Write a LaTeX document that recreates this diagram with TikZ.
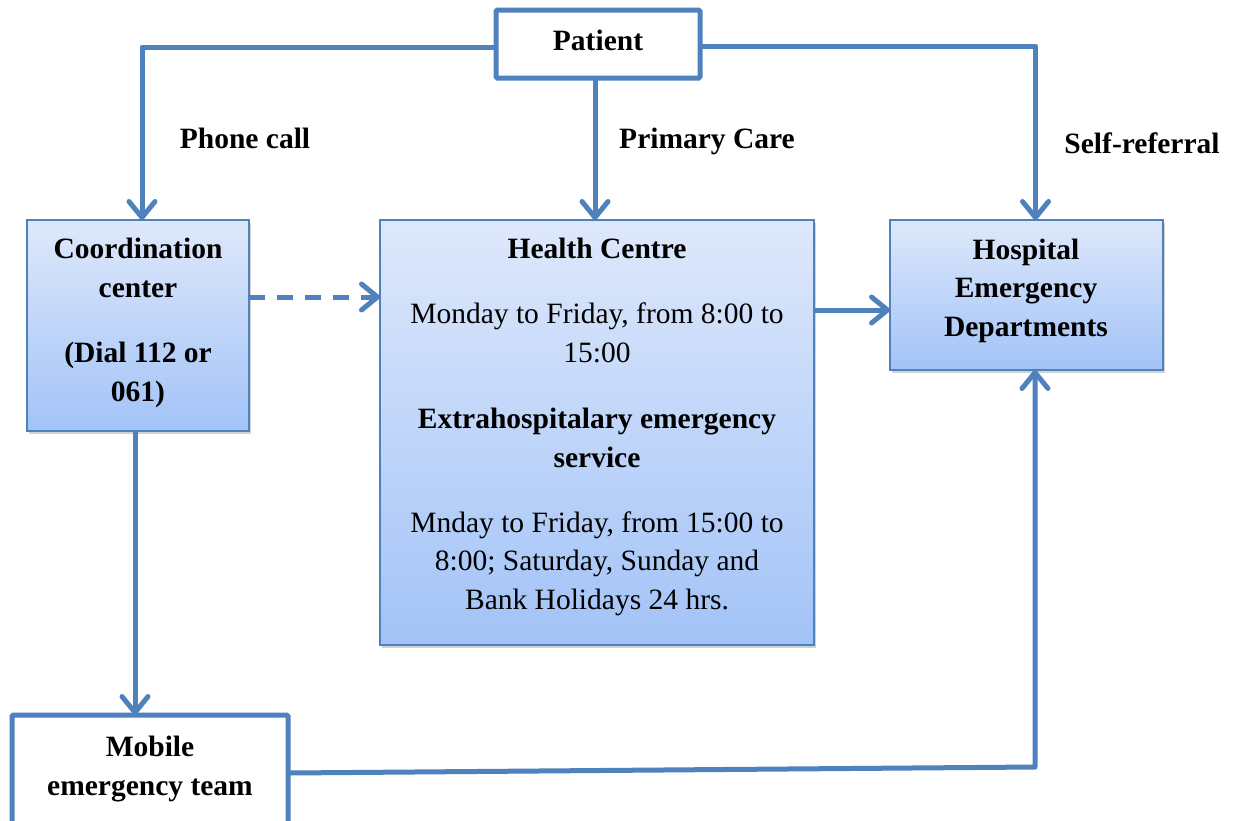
\documentclass[tikz,border=0pt]{standalone}
\usepackage{fontspec}
\setmainfont{Liberation Serif}
\usetikzlibrary{arrows.meta,shadows,calc}
\definecolor{lineblue}{RGB}{79,129,189}
\definecolor{topblue}{RGB}{222,232,251}
\definecolor{botblue}{RGB}{162,195,247}
\begin{document}
\begin{tikzpicture}[x=1pt,y=-1pt,
  bluebox/.style={draw=lineblue, line width=1.6pt, top color=topblue, bottom color=botblue,
     inner sep=0pt, outer sep=0pt, anchor=north west,
     drop shadow={shadow xshift=2pt, shadow yshift=-3pt, opacity=0.35}},
  whitebox/.style={draw=lineblue, line width=5pt, fill=white, rounded corners=1.5pt,
     inner sep=0pt, outer sep=0pt, anchor=north west},
  txt/.style={font=\fontsize{29.5pt}{38.5pt}\selectfont, align=center, anchor=base, inner sep=0pt},
  btxt/.style={txt, font=\fontsize{29.5pt}{38.5pt}\selectfont\bfseries},
  conn/.style={draw=lineblue, line width=5pt, line join=round},
  arr/.style={conn, -{Straight Barb[length=16pt,width=26pt,line cap=round,line join=round]}}
]
\clip (0,0) rectangle (1238,820);
\fill[white] (0,0) rectangle (1238,820);

% boxes
\node[whitebox, minimum width=204pt, minimum height=68pt] (pat) at (496,10) {};
\node[bluebox, minimum width=222pt, minimum height=211pt] (cc) at (27,220) {};
\node[bluebox, minimum width=434pt, minimum height=425pt] (hc) at (380,220) {};
\node[bluebox, minimum width=273pt, minimum height=150pt] (hosp) at (890,220) {};
\node[whitebox, minimum width=276pt, minimum height=116pt] (mob) at (12,715) {};

% texts (anchor = baseline of last line)
\node[btxt] (patt) at (598,50) {Patient};
\node[btxt] (cct1) at (138,297) {Coordination\\center};
\node[btxt] (cct2) at (138,401) {(Dial 112 or\\061)};
\node[btxt] (hct1) at (597,258) {Health Centre};
\node[txt] (hct2) at (597,362) {Monday to Friday, from 8:00 to\\15:00};
\node[btxt] (hct3) at (597,467) {Extrahospitalary emergency\\service};
\node[txt] (hct4) at (597,609) {Mnday to Friday, from 15:00 to\\8:00; Saturday, Sunday and\\Bank Holidays 24 hrs.};
\node[btxt] (hospt) at (1026,336) {Hospital\\Emergency\\Departments};
\node[btxt] (mobt) at (150,795) {Mobile\\emergency team};

% labels
\node[btxt] (l1) at (245,148) {Phone call};
\node[btxt] (l2) at (707,148) {Primary Care};
\node[btxt] (l3) at (1142,153) {Self-referral};

% connectors
\coordinate (pl) at ($(pat.west)+(0,3)$);
\coordinate (pr) at ($(pat.east)+(0,2)$);
\draw[arr] (pl) -| ([xshift=4pt]cc.north);
\draw[arr] (pr) -| ([xshift=9pt]hosp.north);
\draw[arr] ([xshift=-3pt]pat.south) -- ([xshift=-3pt]pat.south |- hc.north);
\coordinate (dstart) at (cc.east |- 0,297);
\draw[arr, dash pattern=on 16pt off 12pt] (dstart) -- (dstart -| hc.west);
\coordinate (hstart) at (hc.east |- 0,310);
\draw[arr] (hstart) -- (hstart -| hosp.west);
\draw[arr] ([xshift=-3pt]cc.south) -- ([xshift=-3pt]cc.south |- mob.north);
\coordinate (mr) at (1035,767);
\draw[arr] (mob.east) -- (mr) -- (mr |- hosp.south);
\end{tikzpicture}
\end{document}
